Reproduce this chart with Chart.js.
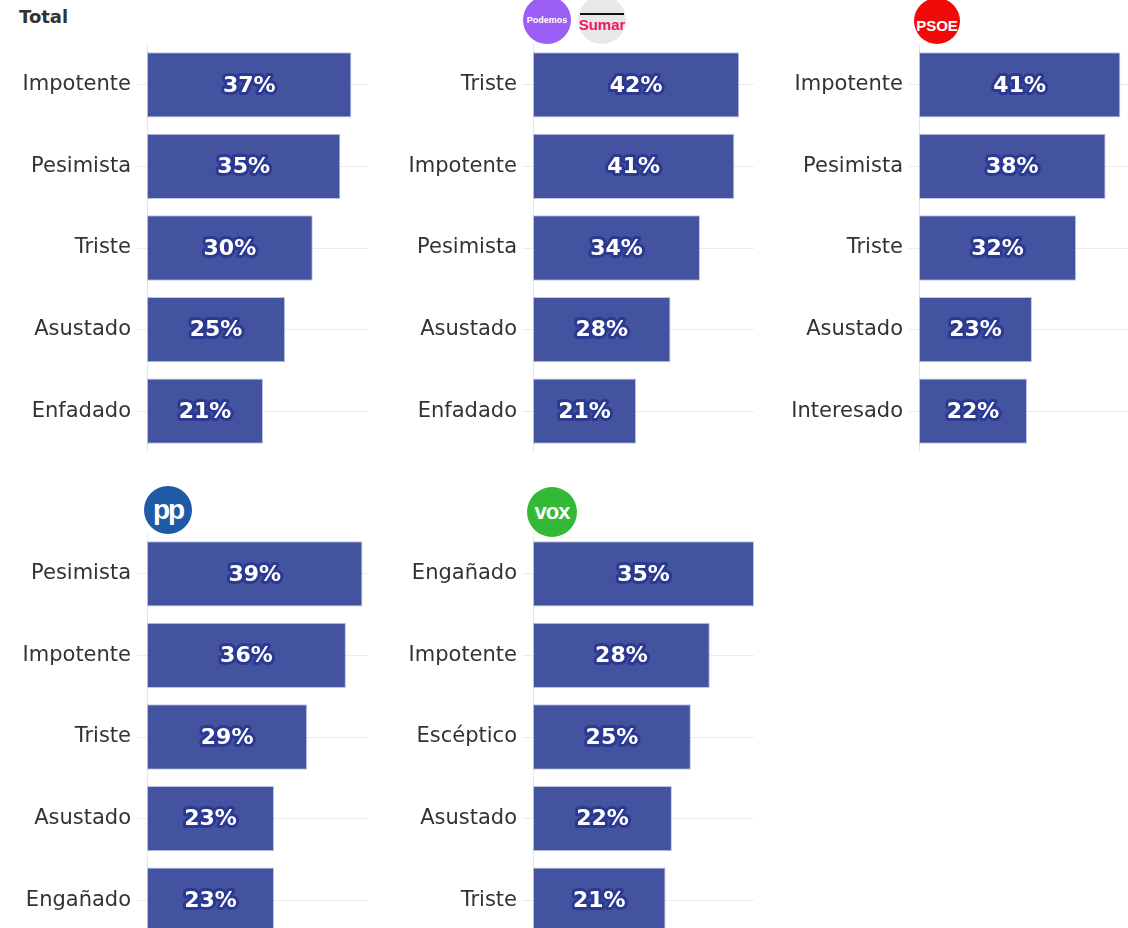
<!DOCTYPE html>
<html>
<head>
<meta charset="utf-8">
<script src="https://cdn.jsdelivr.net/npm/chart.js@4"></script>
<style>
  body { margin: 0; width: 1128px; height: 928px; overflow: hidden; background: #fff; font-family: "DejaVu Sans", sans-serif; position: relative; }
  canvas.panel { position: absolute; }
  .title { position: absolute; left: 19px; top: 6px; font-weight: bold; font-size: 18px; color: #333; }
  .logo { position: absolute; border-radius: 50%; display: flex; align-items: center; justify-content: center; overflow: hidden; font-family: "Liberation Sans", Arial, sans-serif; font-weight: bold; }
</style>
</head>
<body>
<div class="title">Total</div>

<div class="logo" style="left:523px;top:-4px;width:48px;height:48px;background:#9b5ff5;color:#fff;font-size:9px;">Podemos</div>
<div class="logo" style="left:578px;top:-4px;width:48px;height:48px;background:#e8e8e8;color:#f0195f;font-size:15px;flex-direction:column;">
  <div style="width:44px;height:2px;background:#111;margin-bottom:1px;margin-top:6px;"></div>Sumar</div>
<div class="logo" style="left:914px;top:-2px;width:46px;height:46px;background:#f20a0a;color:#fff;font-size:15px;padding-top:8px;box-sizing:border-box;">PSOE</div>
<div class="logo" style="left:144px;top:486px;width:48px;height:48px;background:#1f5aa6;color:#fff;font-size:28px;letter-spacing:-2px;">pp</div>
<div class="logo" style="left:527px;top:487px;width:50px;height:50px;background:#33b935;color:#fff;font-size:22px;letter-spacing:-1px;">vox</div>

<canvas id="c-total" class="panel" width="380" height="408" style="left:0;top:44px;"></canvas>
<canvas id="c-sumar" class="panel" width="380" height="408" style="left:386px;top:44px;"></canvas>
<canvas id="c-psoe" class="panel" width="380" height="408" style="left:772px;top:44px;"></canvas>
<canvas id="c-pp" class="panel" width="380" height="408" style="left:0;top:533px;"></canvas>
<canvas id="c-vox" class="panel" width="380" height="408" style="left:386px;top:533px;"></canvas>

<script>
/* =================================
  data
==================================== */
const totalLabels = ['Impotente', 'Pesimista', 'Triste', 'Asustado', 'Enfadado'];
const totalValues = [37, 35, 30, 25, 21];

const sumarLabels = ['Triste', 'Impotente', 'Pesimista', 'Asustado', 'Enfadado'];
const sumarValues = [42, 41, 34, 28, 21];

const psoeLabels = ['Impotente', 'Pesimista', 'Triste', 'Asustado', 'Interesado'];
const psoeValues = [41, 38, 32, 23, 22];

const ppLabels = ['Pesimista', 'Impotente', 'Triste', 'Asustado', 'Engañado'];
const ppValues = [39, 36, 29, 23, 23];

const voxLabels = ['Engañado', 'Impotente', 'Escéptico', 'Asustado', 'Triste'];
const voxValues = [35, 28, 25, 22, 21];

/* =================================
  value labels inside bars
==================================== */
const valueLabels = {
    id: 'valueLabels',
    afterDatasetsDraw(chart) {
        const ctx = chart.ctx;
        const meta = chart.getDatasetMeta(0);
        const values = chart.data.datasets[0].data;
        ctx.save();
        ctx.font = 'bold 22px "DejaVu Sans", sans-serif';
        ctx.textAlign = 'center';
        ctx.textBaseline = 'middle';
        ctx.lineJoin = 'round';
        ctx.lineWidth = 6;
        ctx.strokeStyle = '#2b3990';
        ctx.fillStyle = '#fff';
        meta.data.forEach((bar, i) => {
            const x = (bar.x + bar.base) / 2;
            const text = values[i] + '%';
            ctx.strokeText(text, x, bar.y + 1);
            ctx.fillText(text, x, bar.y + 1);
        });
        ctx.restore();
    }
};

/* =================================
  charts
==================================== */
function makeChart(id, labels, values) {
    const max = Math.ceil(Math.max(...values) / 5) * 5;
    return new Chart(document.getElementById(id), {
        type: 'bar',
        data: {
            labels: labels,
            datasets: [{
                data: values,
                backgroundColor: '#4453a0',
                borderColor: 'rgba(150,160,210,0.6)',
                borderWidth: 1,
                borderSkipped: false,
                categoryPercentage: 0.8,
                barPercentage: 1
            }]
        },
        options: {
            indexAxis: 'y',
            responsive: false,
            animation: false,
            layout: { padding: 0 },
            scales: {
                x: {
                    display: false,
                    min: 0,
                    max: max
                },
                y: {
                    afterFit(scale) {
                        scale.width = 147;
                        scale.paddingTop = 0;
                        scale.paddingBottom = 0;
                    },
                    grid: {
                        offset: false,
                        color: '#ececec',
                        tickLength: 10
                    },
                    border: { color: '#e6e6e6' },
                    ticks: {
                        padding: 6,
                        color: '#333',
                        font: { family: 'DejaVu Sans', size: 21 }
                    }
                }
            },
            plugins: {
                legend: { display: false },
                tooltip: { enabled: false }
            }
        },
        plugins: [valueLabels, {
            id: 'rightGap',
            beforeLayout(chart) { chart.options.layout.padding = { right: 12 }; }
        }]
    });
}

makeChart('c-total', totalLabels, totalValues);
makeChart('c-sumar', sumarLabels, sumarValues);
makeChart('c-psoe', psoeLabels, psoeValues);
makeChart('c-pp', ppLabels, ppValues);
makeChart('c-vox', voxLabels, voxValues);
</script>
</body>
</html>
